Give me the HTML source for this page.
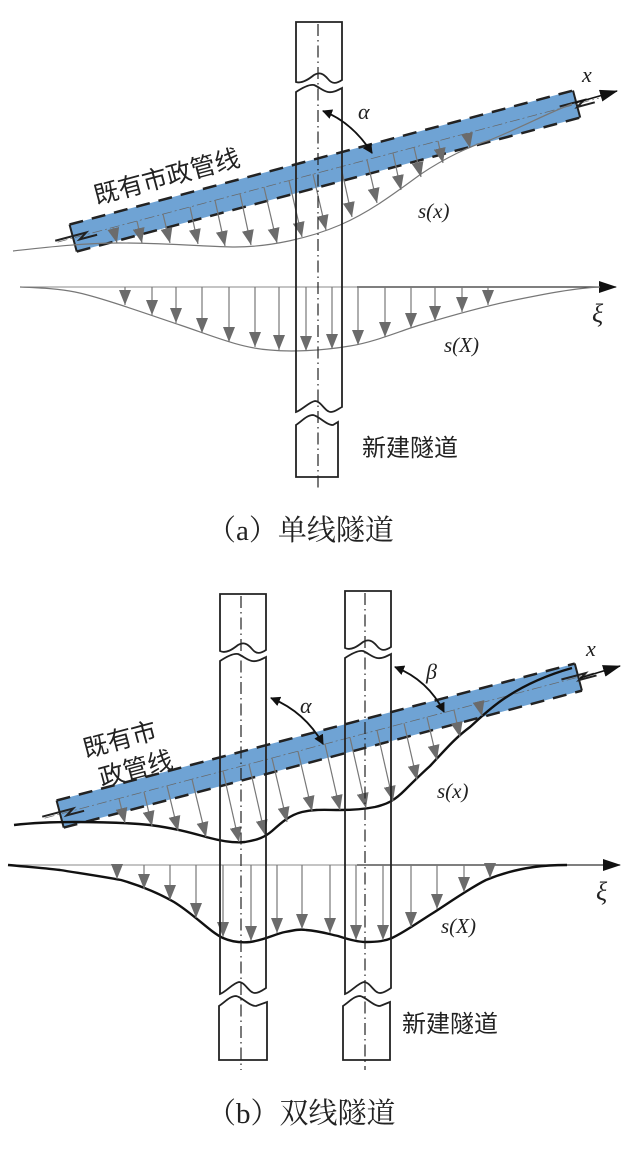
<!DOCTYPE html>
<html><head><meta charset="utf-8"><style>
html,body{margin:0;padding:0;background:#fff;}
svg{display:block;}
.t{font-family:"Liberation Serif",serif;font-style:italic;fill:#222;}
.cn{font-family:"Liberation Sans","Noto Sans CJK SC",sans-serif;fill:#222;}
.cap{font-family:"Liberation Serif","Noto Serif CJK SC",serif;fill:#222;}
</style></head><body>
<svg width="632" height="1152" viewBox="0 0 632 1152" xmlns="http://www.w3.org/2000/svg">
<defs>
<marker id="ah" markerWidth="10" markerHeight="10" refX="9" refY="5" orient="auto" markerUnits="userSpaceOnUse"><path d="M0,0 L10,5 L0,10 Z" fill="#111"/></marker>
<marker id="ahs" markerWidth="10" markerHeight="10" refX="1" refY="5" orient="auto" markerUnits="userSpaceOnUse"><path d="M10,0 L0,5 L10,10 Z" fill="#111"/></marker>
<marker id="ga" markerWidth="16" markerHeight="12" refX="15" refY="6" orient="auto" markerUnits="userSpaceOnUse"><path d="M0,0 L15,6 L0,12 Z" fill="#6b6b6b"/></marker>
<marker id="axh" markerWidth="18" markerHeight="12" refX="17" refY="6" orient="auto" markerUnits="userSpaceOnUse"><path d="M0,0 L18,6 L0,12 Z" fill="#111"/></marker>
</defs>

<!-- ================= (a) ================= -->
<g transform="translate(77,237) rotate(-14.9)">
  <rect x="-4" y="-14" width="521" height="28" fill="#6fa3d4"/>
  <line x1="-4" y1="-14" x2="517" y2="-14" stroke="#222" stroke-width="2.5" stroke-dasharray="14 9"/>
  <line x1="-4" y1="14" x2="517" y2="14" stroke="#222" stroke-width="2.5" stroke-dasharray="14 9"/>
  <line x1="-4" y1="-14" x2="-4" y2="14" stroke="#222" stroke-width="2"/>
  <line x1="517" y1="-14" x2="517" y2="14" stroke="#222" stroke-width="2"/>
  <line x1="-20" y1="0" x2="540" y2="0" stroke="#666" stroke-width="0.7" stroke-dasharray="10 3 2 3"/>
  <path d="M-22,-2 L10,-2 L2,3 L20,3" fill="none" stroke="#222" stroke-width="2"/>
  <path d="M500,-2 L525,-2 L517,3 L535,3" fill="none" stroke="#222" stroke-width="2"/>
</g>
<line x1="575" y1="103" x2="617" y2="91" stroke="#111" stroke-width="1.5" marker-end="url(#axh)"/>
<text class="t" x="582" y="82" font-size="22">x</text>

<path d="M13,251 C40,248 80,243 120,243 C170,243 210,247 235,247 C270,247 310,238 340,225 C370,212 395,193 421,174 C445,158 470,146 490,140 C520,128 550,112 572,104" fill="none" stroke="#777" stroke-width="1.2"/>
<g stroke="#777" stroke-width="1.2" marker-end="url(#ga)">
<line x1="113" y1="227.4" x2="117" y2="243"/>
<line x1="137" y1="221.1" x2="142" y2="243"/>
<line x1="163" y1="214.1" x2="170" y2="243"/>
<line x1="190" y1="207" x2="198" y2="244"/>
<line x1="215" y1="200.3" x2="225" y2="246"/>
<line x1="240" y1="193.7" x2="251" y2="245"/>
<line x1="264" y1="187.3" x2="277" y2="243"/>
<line x1="289" y1="180.6" x2="302" y2="237"/>
<line x1="313" y1="174.2" x2="326" y2="230"/>
<line x1="341" y1="166.8" x2="352" y2="217"/>
<line x1="367" y1="159.9" x2="377" y2="203"/>
<line x1="393" y1="153" x2="401" y2="190"/>
<line x1="414" y1="147.4" x2="421" y2="177"/>
<line x1="438" y1="141" x2="443" y2="163"/>
<line x1="467" y1="133.3" x2="470" y2="148"/>
</g>
<text class="t" x="418" y="218" font-size="21">s(x)</text>

<text class="cn" font-size="25" transform="translate(169,185) rotate(-15)" text-anchor="middle">既有市政管线</text>

<line x1="20" y1="287" x2="357" y2="287" stroke="#888" stroke-width="1"/>
<line x1="357" y1="287" x2="616" y2="287" stroke="#333" stroke-width="1.3" marker-end="url(#axh)"/>
<path d="M20,287 C45,288 60,289 75,292 C100,297 150,315 180,325 C210,335 240,348 270,350 C290,352 320,351 350,346 C375,342 400,331 420,325 C450,316 490,305 515,300 C545,294 575,288 600,287" fill="none" stroke="#777" stroke-width="1.2"/>
<g stroke="#777" stroke-width="1.2" marker-end="url(#ga)">
<line x1="125" y1="287" x2="125" y2="305"/>
<line x1="152" y1="287" x2="152" y2="315"/>
<line x1="176" y1="287" x2="176" y2="323"/>
<line x1="202" y1="287" x2="202" y2="333"/>
<line x1="229" y1="287" x2="229" y2="342"/>
<line x1="255" y1="287" x2="255" y2="347"/>
<line x1="279" y1="287" x2="279" y2="350"/>
<line x1="306" y1="287" x2="306" y2="351"/>
<line x1="332" y1="287" x2="332" y2="349"/>
<line x1="358" y1="287" x2="358" y2="345"/>
<line x1="385" y1="287" x2="385" y2="337"/>
<line x1="411" y1="287" x2="411" y2="328"/>
<line x1="435" y1="287" x2="435" y2="321"/>
<line x1="462" y1="287" x2="462" y2="312"/>
<line x1="488" y1="287" x2="488" y2="305"/>
</g>
<text class="t" x="592" y="322" font-size="26">ξ</text>
<text class="t" x="444" y="352" font-size="21">s(X)</text>

<!-- tunnel (a) -->
<g fill="none" stroke="#222" stroke-width="1.8">
  <path d="M296,82 L296,22 L342,22 L342,80 C336,84 332,84 328,79 C323,73 319,72 314,75 C309,79 302,84 296,82 Z"/>
  <path d="M296,92 C302,88 309,84 314,85 C319,87 323,91 328,92 C333,93 338,90 342,88 L342,407 C338,409 335,412 331,412 C325,412 321,401 315,401 C309,402 302,410 296,412 Z"/>
  <path d="M296,425 C302,421 307,415 313,415 C319,416 326,425 333,425 L338,422 L338,477 L296,477 Z"/>
</g>
<line x1="318" y1="24" x2="318" y2="488" stroke="#222" stroke-width="1.2" stroke-dasharray="12 4 1.5 4"/>
<path d="M323,111 Q352,122 372,153" fill="none" stroke="#111" stroke-width="1.8" marker-start="url(#ahs)" marker-end="url(#ah)"/>
<text class="t" x="358" y="119" font-size="22">α</text>

<text class="cn" x="362" y="456" font-size="24">新建隧道</text>
<text class="cap" x="207" y="540" font-size="29">（a）单线隧道</text>

<!-- ================= (b) ================= -->
<g transform="translate(64,813) rotate(-14.8)">
  <rect x="-4" y="-14" width="536" height="28" fill="#6fa3d4"/>
  <line x1="-4" y1="-14" x2="532" y2="-14" stroke="#222" stroke-width="2.5" stroke-dasharray="14 9"/>
  <line x1="-4" y1="14" x2="532" y2="14" stroke="#222" stroke-width="2.5" stroke-dasharray="14 9"/>
  <line x1="-4" y1="-14" x2="-4" y2="14" stroke="#222" stroke-width="2"/>
  <line x1="532" y1="-14" x2="532" y2="14" stroke="#222" stroke-width="2"/>
  <line x1="-20" y1="0" x2="550" y2="0" stroke="#666" stroke-width="0.7" stroke-dasharray="10 3 2 3"/>
  <path d="M-22,-2 L10,-2 L2,3 L20,3" fill="none" stroke="#222" stroke-width="2"/>
  <path d="M515,-2 L540,-2 L532,3 L550,3" fill="none" stroke="#222" stroke-width="2"/>
</g>
<line x1="580" y1="678" x2="620" y2="666" stroke="#111" stroke-width="1.5" marker-end="url(#axh)"/>
<text class="t" x="586" y="656" font-size="22">x</text>

<path d="M14,825 C40,822 60,822 75,822 C110,822 130,823 150,825 C180,829 195,834 210,838 C225,842 235,843 245,842 C258,840 265,837 272,831 C282,822 290,815 302,812 C315,809 325,810 340,810 C355,810 365,809 375,807 C388,804 395,800 405,790 C415,780 420,775 430,766 C445,750 455,738 470,727 C480,718 490,708 505,698 C520,688 540,677 572,668" fill="none" stroke="#111" stroke-width="2.4"/>
<g stroke="#777" stroke-width="1.2" marker-end="url(#ga)">
<line x1="119" y1="798.5" x2="125" y2="823"/>
<line x1="144" y1="791.9" x2="152" y2="826"/>
<line x1="167" y1="785.8" x2="178" y2="831"/>
<line x1="192" y1="779.2" x2="206" y2="837"/>
<line x1="223" y1="771" x2="239" y2="842"/>
<line x1="249" y1="764.2" x2="265" y2="835"/>
<line x1="272" y1="758.1" x2="287" y2="822"/>
<line x1="298" y1="751.2" x2="312" y2="811"/>
<line x1="325" y1="744.1" x2="340" y2="810"/>
<line x1="350" y1="737.5" x2="366" y2="808"/>
<line x1="377" y1="730.4" x2="393" y2="801"/>
<line x1="404" y1="723.2" x2="417" y2="780"/>
<line x1="427" y1="717.2" x2="437" y2="760"/>
<line x1="454" y1="710" x2="460" y2="737"/>
<line x1="479" y1="703.4" x2="482" y2="716"/>
</g>
<text class="t" x="437" y="798" font-size="21">s(x)</text>

<text class="cn" font-size="25" transform="translate(122,748) rotate(-15)" text-anchor="middle">既有市</text>
<text class="cn" font-size="25" transform="translate(138,777) rotate(-15)" text-anchor="middle">政管线</text>

<line x1="8" y1="865" x2="357" y2="865" stroke="#888" stroke-width="1"/>
<line x1="357" y1="865" x2="620" y2="865" stroke="#333" stroke-width="1.3" marker-end="url(#axh)"/>
<path d="M8,865 C30,867 45,868 60,870 C85,874 105,877 121,880 C145,887 160,894 174,902 C195,915 210,932 223,938 C232,942 240,943 250,942 C265,940 275,934 285,932 C295,930 300,929 306,930 C320,931 328,934 338,936 C350,940 358,942 366,942 C378,942 385,941 392,938 C405,932 420,921 433,913 C450,902 470,888 486,880 C505,872 520,869 534,867 C548,865 558,865 567,865" fill="none" stroke="#111" stroke-width="2.4"/>
<g stroke="#777" stroke-width="1.2" marker-end="url(#ga)">
<line x1="117" y1="865" x2="117" y2="879"/>
<line x1="144" y1="865" x2="144" y2="889"/>
<line x1="170" y1="865" x2="170" y2="900"/>
<line x1="196" y1="865" x2="196" y2="918"/>
<line x1="223" y1="865" x2="223" y2="937"/>
<line x1="251" y1="865" x2="251" y2="941"/>
<line x1="277" y1="865" x2="277" y2="933"/>
<line x1="302" y1="865" x2="302" y2="929"/>
<line x1="330" y1="865" x2="330" y2="933"/>
<line x1="356" y1="865" x2="356" y2="940"/>
<line x1="383" y1="865" x2="383" y2="940"/>
<line x1="411" y1="865" x2="411" y2="927"/>
<line x1="437" y1="865" x2="437" y2="909"/>
<line x1="464" y1="865" x2="464" y2="892"/>
<line x1="490" y1="865" x2="490" y2="878"/>
</g>
<text class="t" x="596" y="900" font-size="26">ξ</text>
<text class="t" x="441" y="933" font-size="21">s(X)</text>

<!-- tunnels (b) -->
<g fill="none" stroke="#222" stroke-width="1.8">
  <path d="M220,651 L220,594 L266,594 L266,650 C260,654 256,654 252,649 C247,643 243,642 238,645 C233,649 226,654 220,651 Z"/>
  <path d="M220,661 C226,657 233,653 238,654 C243,656 247,660 252,661 C257,662 262,659 266,657 L266,988 C263,990 259,993 255,993 C249,993 245,982 239,982 C233,983 226,992 220,994 Z"/>
  <path d="M219,1006 C225,1002 230,996 236,996 C242,997 249,1006 256,1006 L267,1002 L267,1060 L219,1060 Z"/>
  <path d="M345,648 L345,591 L391,591 L391,647 C385,651 381,651 377,646 C372,640 368,639 363,642 C358,646 351,651 345,648 Z"/>
  <path d="M345,658 C351,654 358,650 363,651 C368,653 372,657 377,658 C382,659 387,656 391,654 L391,988 C388,990 384,993 380,993 C374,993 370,982 364,982 C358,983 351,992 345,994 Z"/>
  <path d="M343,1006 C349,1002 354,996 360,996 C366,997 373,1006 380,1006 L390,1002 L390,1060 L343,1060 Z"/>
</g>
<line x1="241" y1="596" x2="241" y2="1070" stroke="#222" stroke-width="1.2" stroke-dasharray="12 4 1.5 4"/>
<line x1="365" y1="593" x2="365" y2="1070" stroke="#222" stroke-width="1.2" stroke-dasharray="12 4 1.5 4"/>

<path d="M271,698 Q305,712 323,744" fill="none" stroke="#111" stroke-width="1.8" marker-start="url(#ahs)" marker-end="url(#ah)"/>
<text class="t" x="300" y="713" font-size="22">α</text>
<path d="M395,667 Q428,680 444,712" fill="none" stroke="#111" stroke-width="1.8" marker-start="url(#ahs)" marker-end="url(#ah)"/>
<text class="t" x="426" y="679" font-size="22">β</text>

<text class="cn" x="402" y="1032" font-size="24">新建隧道</text>
<text class="cap" x="207" y="1123" font-size="29">（b）双线隧道</text>
</svg>
</body></html>
